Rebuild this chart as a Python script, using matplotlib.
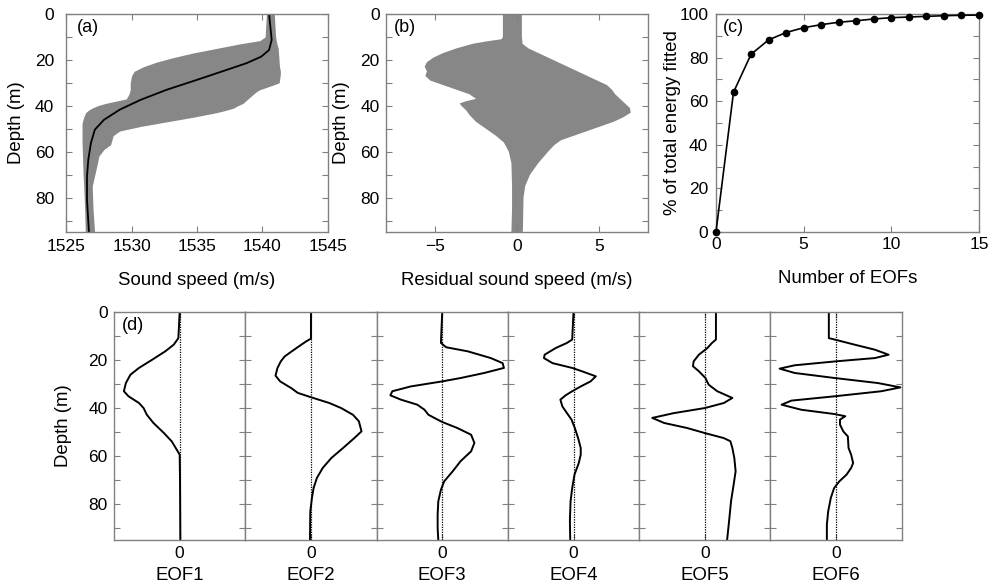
import matplotlib
matplotlib.use("Agg")
import matplotlib.pyplot as plt
from matplotlib.ticker import FuncFormatter, MultipleLocator

plt.rcParams["font.family"] = ["Liberation Sans", "DejaVu Sans"]
plt.rcParams["font.size"] = 12.5

EDGE = "#808080"
FILL = "#878787"
LBL = 13.4

# ── (a) sound speed profiles: envelope + mean ───────────────────────────────
ssp_env_depth = [0, 10, 11.6, 13, 15, 17, 19, 21, 23, 25, 27, 30, 31, 33, 34, 35, 37, 38, 39, 40,
                 41, 42, 43, 45, 47, 48, 49, 51, 53, 55, 57, 59, 62, 65, 66, 70, 75, 85, 95]
ssp_min = [1540.3, 1540.2, 1539.8, 1538.3, 1536.5, 1534.7, 1533.2, 1531.9, 1530.9, 1530.2, 1530.0,
           1529.9, 1529.9, 1529.9, 1529.85, 1529.8, 1529.6, 1528.8, 1528.0, 1527.4, 1527.0, 1526.7,
           1526.5, 1526.35, 1526.25, 1526.22, 1526.22, 1526.22, 1526.22, 1526.22, 1526.23, 1526.24,
           1526.26, 1526.27, 1526.28, 1526.3, 1526.35, 1526.42, 1526.47]
ssp_max = [1540.9, 1541.0, 1541.05, 1541.1, 1541.2, 1541.22, 1541.25, 1541.27, 1541.3, 1541.37,
           1541.35, 1541.27, 1540.8, 1539.8, 1539.5, 1539.3, 1538.9, 1538.7, 1538.5, 1538.1, 1537.8,
           1537.2, 1536.5, 1534.7, 1532.7, 1531.7, 1530.7, 1529.1, 1528.6, 1528.5, 1528.4, 1527.9,
           1527.5, 1527.4, 1527.36, 1527.2, 1527.0, 1527.06, 1527.18]

ssp_mean_depth = [0, 5.5, 11.3, 15.7, 18.6, 21.4, 24.3, 28.7, 33, 37.4, 41.7, 46.1, 50.4, 56.2,
                  63.5, 70.7, 80.9, 95]
ssp_mean = [1540.5, 1540.6, 1540.7, 1540.5, 1539.9, 1538.8, 1537.3, 1535.0, 1532.7, 1530.7,
            1529.1, 1527.9, 1527.2, 1526.9, 1526.7, 1526.6, 1526.6, 1526.75]

# ── (b) residual envelope ───────────────────────────────────────────────────
res_left_depth = [0, 10, 11, 12, 13, 15, 17, 19, 21, 23, 25, 27, 29, 31, 33, 35, 37, 38, 39, 40,
                  42, 44, 47, 50, 53, 56, 60, 65, 75, 85, 95]
res_left = [-0.86, -0.86, -0.94, -1.9, -2.7, -3.7, -4.5, -5.1, -5.5, -5.64, -5.5, -5.6, -5.3, -4.5,
            -3.7, -2.9, -2.5, -3.1, -3.5, -3.4, -3.1, -2.9, -2.5, -1.9, -1.3, -0.8, -0.5, -0.34,
            -0.3, -0.3, -0.34]
res_right_depth = [0, 10, 13, 15, 17, 19, 21, 23, 25, 27, 29, 31, 33, 35, 37, 39, 41, 43, 45, 47,
                   49, 51, 53, 55, 57, 60, 65, 70, 75, 80, 95]
res_right = [0.3, 0.3, 0.34, 0.7, 1.3, 1.9, 2.5, 3.1, 3.7, 4.3, 4.9, 5.5, 5.8, 6.0, 6.3, 6.6, 6.9,
             6.95, 6.5, 5.9, 5.1, 4.3, 3.5, 2.7, 2.3, 1.9, 1.3, 0.8, 0.5, 0.4, 0.36]

# ── (c) cumulative energy ───────────────────────────────────────────────────
n_eofs = list(range(16))
energy_pct = [0, 64.1, 81.5, 88.1, 91.5, 93.7, 95.1, 96.2, 96.9, 97.7, 98.3, 98.6, 98.9, 99.2,
              99.4, 99.5]

# ── (d) EOF shapes (normalised amplitude) ───────────────────────────────────
eof1_depth = [0, 11, 13.7, 16.5, 20, 23.4, 26.2, 29.7, 33.1, 35.2, 38, 40.1, 42.9, 46.3, 50.5, 54,
              58.1, 59.5, 70, 95]
eof1 = [0, -0.02, -0.09, -0.22, -0.42, -0.62, -0.75, -0.82, -0.85, -0.78, -0.62, -0.55, -0.50,
        -0.40, -0.24, -0.12, -0.03, 0, 0.005, 0.01]

eof2_depth = [0, 11.2, 12.3, 15.1, 18.6, 20.7, 23.4, 26.6, 29, 31.8, 33.8, 35.6, 38, 40.1, 42.9,
              45.6, 49.8, 52.6, 56.7, 60.9, 65, 69.2, 73.4, 77.5, 83.1, 95]
eof2 = [0, 0, -0.07, -0.22, -0.40, -0.46, -0.51, -0.54, -0.47, -0.30, -0.20, 0, 0.28, 0.46, 0.64,
        0.73, 0.77, 0.66, 0.49, 0.31, 0.18, 0.09, 0.04, 0.015, -0.01, -0.015]

eof3_depth = [0, 13, 14.8, 16.5, 19.3, 21.4, 23.4, 25.5, 27.6, 29, 31.1, 33.1, 34.8, 36.6, 38.7,
              40.8, 42.9, 44.2, 45.9, 48.4, 51.2, 54.6, 58.1, 62.2, 66.4, 70.6, 74.1, 78.9, 84.4,
              90, 95]
eof3 = [0, -0.02, 0.06, 0.39, 0.74, 0.92, 0.94, 0.64, 0.28, 0, -0.48, -0.76, -0.79, -0.63, -0.38,
        -0.27, -0.21, -0.12, 0, 0.23, 0.44, 0.49, 0.44, 0.28, 0.16, 0.03, -0.02, -0.06, -0.07,
        -0.07, -0.06]

eof4_depth = [0, 11.6, 13, 15.1, 17.9, 19.3, 21.4, 23.4, 24.8, 26.9, 29, 31.1, 33.1, 34.8, 36.6,
              39.4, 42.2, 44.9, 48.4, 52.6, 56.7, 59.5, 63, 67.8, 73.4, 78.9, 87.2, 95]
eof4 = [0, -0.02, -0.10, -0.27, -0.44, -0.45, -0.32, -0.02, 0.13, 0.34, 0.26, 0.11, -0.02, -0.12,
        -0.20, -0.17, -0.10, -0.03, 0.02, 0.07, 0.11, 0.11, 0.08, 0.015, -0.02, -0.045, -0.055,
        -0.05]

eof5_depth = [0, 11.6, 13, 15.1, 17.9, 20.7, 22.7, 24.8, 27.6, 30.4, 33.1, 35.9, 38, 40.1, 42.2,
              44.2, 46.3, 48.4, 50.5, 52.6, 53.9, 56.7, 60.9, 66.4, 71.9, 78.9, 87.2, 95]
eof5 = [0.17, 0.17, 0.11, 0.04, -0.09, -0.17, -0.18, -0.09, 0.01, 0.06, 0.19, 0.42, 0.29, 0,
        -0.47, -0.80, -0.62, -0.27, 0, 0.29, 0.39, 0.42, 0.45, 0.47, 0.44, 0.40, 0.37, 0.34]

eof6_depth = [0, 11, 11.6, 13.7, 15.8, 17.9, 19.3, 20.7, 22.3, 23.7, 25.5, 27.6, 29.7, 31.5, 33.1,
              35.2, 37, 38.7, 40.8, 42.6, 43.5, 44.9, 47, 49.8, 51.9, 56.7, 59.5, 63, 65, 67.8,
              70.6, 73.4, 77.5, 83.1, 88.6, 95]
eof6 = [-0.11, -0.11, -0.02, 0.28, 0.59, 0.80, 0.59, -0.02, -0.63, -0.86, -0.63, -0.02, 0.64,
        0.98, 0.69, -0.02, -0.68, -0.83, -0.53, -0.02, 0.14, 0.06, 0.06, 0.11, 0.18, 0.19, 0.23,
        0.26, 0.23, 0.16, 0.05, -0.03, -0.08, -0.12, -0.14, -0.14]

eof_names = ["EOF1", "EOF2", "EOF3", "EOF4", "EOF5", "EOF6"]
eof_depths = [eof1_depth, eof2_depth, eof3_depth, eof4_depth, eof5_depth, eof6_depth]
eof_vals = [eof1, eof2, eof3, eof4, eof5, eof6]


def every_other(v, pos):
    return f"{v:.0f}" if round(v) % 20 == 0 else ""


def style(ax, xpad=5, ypad=4.5):
    for s in ax.spines.values():
        s.set_color(EDGE)
        s.set_linewidth(1.0)
    ax.tick_params(direction="in", top=True, right=True, length=4, width=0.8,
                   color=EDGE, labelsize=12.5)
    ax.tick_params(axis="x", pad=xpad)
    ax.tick_params(axis="y", pad=ypad)


def depth_axis(ax):
    ax.set_ylim(95, 0)
    ax.yaxis.set_major_locator(MultipleLocator(10))
    ax.yaxis.set_major_formatter(FuncFormatter(every_other))


fig = plt.figure(figsize=(9.9, 5.87), dpi=100)

# (a)
ax = fig.add_axes([0.0667, 0.6048, 0.2646, 0.3714])
ax.fill_betweenx(ssp_env_depth, ssp_min, ssp_max, color=FILL, lw=0)
ax.plot(ssp_mean, ssp_mean_depth, color="black", lw=1.3)
ax.set_xlim(1525, 1545)
ax.xaxis.set_major_locator(MultipleLocator(5))
depth_axis(ax)
style(ax, xpad=5, ypad=8.5)
ax.set_xlabel("Sound speed (m/s)", fontsize=LBL)
ax.set_ylabel("Depth (m)", fontsize=LBL)
ax.xaxis.set_label_coords(0.5, -0.183)
ax.yaxis.set_label_coords(-0.156, 0.5)
ax.text(0.04, 0.975, "(a)", transform=ax.transAxes, va="top", ha="left", fontsize=13)

# (b)
ax = fig.add_axes([0.3899, 0.6048, 0.2646, 0.3714])
ax.fill(res_left + res_right[::-1], res_left_depth + res_right_depth[::-1], color=FILL, lw=0)
ax.set_xlim(-8, 8)
ax.set_xticks([-5, 0, 5])
depth_axis(ax)
style(ax, xpad=5, ypad=4.5)
ax.set_xlabel("Residual sound speed (m/s)", fontsize=LBL)
ax.set_ylabel("Depth (m)", fontsize=LBL)
ax.xaxis.set_label_coords(0.5, -0.183)
ax.yaxis.set_label_coords(-0.137, 0.5)
ax.text(0.03, 0.975, "(b)", transform=ax.transAxes, va="top", ha="left", fontsize=13)

# (c)
ax = fig.add_axes([0.7232, 0.6048, 0.2657, 0.3714])
ax.plot(n_eofs, energy_pct, color="black", lw=1.2, marker="o", ms=4.5, clip_on=False, zorder=3)
ax.set_xlim(0, 15)
ax.set_ylim(0, 100)
ax.xaxis.set_major_locator(MultipleLocator(5))
ax.yaxis.set_major_locator(MultipleLocator(10))
ax.yaxis.set_major_formatter(FuncFormatter(every_other))
style(ax, xpad=3.5, ypad=5.5)
ax.set_xlabel("Number of EOFs", fontsize=LBL)
ax.set_ylabel("% of total energy fitted", fontsize=LBL)
ax.xaxis.set_label_coords(0.5, -0.174)
ax.yaxis.set_label_coords(-0.132, 0.5)
ax.text(0.025, 0.975, "(c)", transform=ax.transAxes, va="top", ha="left", fontsize=13)

# (d)
w = 0.1326
for i, (name, dep, val) in enumerate(zip(eof_names, eof_depths, eof_vals)):
    ax = fig.add_axes([0.1152 + i * w, 0.0801, w, 0.3889])
    ax.axvline(0, color="black", lw=0.9, ls=(0, (1, 1)))
    ax.plot(val, dep, color="black", lw=1.4)
    ax.set_xlim(-1, 1)
    ax.set_xticks([0])
    depth_axis(ax)
    style(ax, xpad=4.5, ypad=4.5)
    ax.set_xlabel(name, fontsize=LBL)
    ax.xaxis.set_label_coords(0.5, -0.118)
    if i == 0:
        ax.set_ylabel("Depth (m)", fontsize=LBL)
        ax.yaxis.set_label_coords(-0.32, 0.5)
        ax.text(0.06, 0.975, "(d)", transform=ax.transAxes, va="top", ha="left", fontsize=13)
    else:
        ax.tick_params(labelleft=False)

fig.savefig("out.png", dpi=100)
